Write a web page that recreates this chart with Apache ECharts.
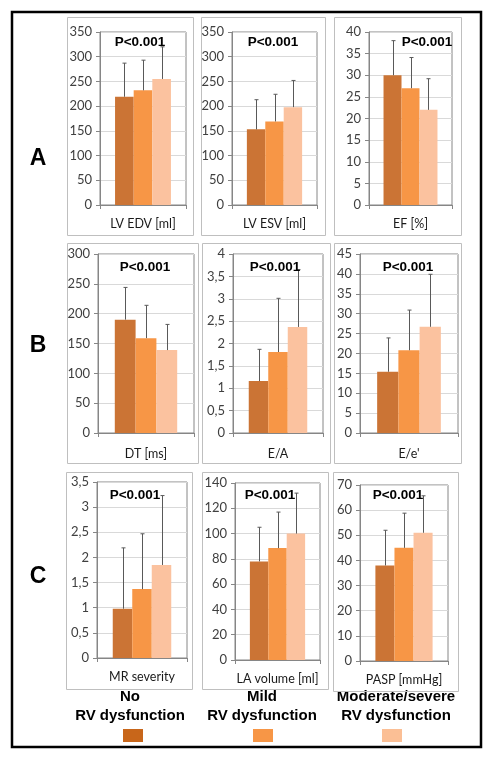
<!DOCTYPE html>
<html>
<head>
<meta charset="utf-8">
<script src="https://cdn.jsdelivr.net/npm/echarts@6/dist/echarts.min.js"></script>
<style>
html,body{margin:0;padding:0;background:#fff;}
#c{width:493px;height:760px;}
</style>
</head>
<body>
<div id="c"></div>
<script>
// ---- data ----
const categories = ['LV EDV [ml]', 'LV ESV [ml]', 'EF [%]', 'DT [ms]', 'E/A', "E/e'", 'MR severity', 'LA volume [ml]', 'PASP [mmHg]'];
const groups = ['No\nRV dysfunction', 'Mild\nRV dysfunction', 'Moderate/severe\nRV dysfunction'];
const noRV = [219, 153, 30, 190, 1.16, 15.4, 0.98, 78, 38];
const mildRV = [232, 169, 27, 159, 1.81, 20.8, 1.37, 88.5, 45];
const modRV = [255, 198, 22, 139, 2.37, 26.7, 1.85, 100, 51];
const noRVUpper = [287, 213, 38, 244, 1.87, 23.9, 2.19, 105, 52];
const mildRVUpper = [293, 224, 34.1, 214, 3.01, 30.9, 2.47, 117, 58.8];
const modRVUpper = [320, 252, 29.2, 182, 3.65, 39.9, 3.23, 132, 65.7];
const axisMax = [350, 350, 40, 300, 4, 45, 3.5, 140, 70];
const axisStep = [50, 50, 5, 50, 0.5, 5, 0.5, 20, 10];
const pLabels = ['P<0.001', 'P<0.001', 'P<0.001', 'P<0.001', 'P<0.001', 'P<0.001', 'P<0.001', 'P<0.001', 'P<0.001'];
const rowLetters = ['A', 'B', 'C'];

// ---- layout / style ----
const grids = [
  [100, 32, 86, 173], [232, 32, 85, 173], [369, 32, 83, 173],
  [98, 254, 96, 179], [233, 254, 90, 179], [360, 254, 98, 179],
  [97, 482, 90, 176], [235, 483, 85, 177], [360, 485, 88, 176]
];
const boxes = [
  [67, 17, 126, 218], [201, 17, 124, 218], [334, 17, 127, 218],
  [67, 243, 131, 220], [202, 243, 128, 220], [334, 243, 127, 220],
  [66, 472, 126, 217], [202, 472, 126, 217], [333, 472, 125, 219]
];
const pPos = [[140, 42], [273, 42], [427, 42], [145, 267], [275, 267], [408, 267], [135, 495], [270, 495], [398, 495]];
const letterPos = [[38, 159], [38, 346], [38, 577]];
const barColors = ['#CB7435', '#F79646', '#FBC29F'];
const legendColors = ['#C8661A', '#F79646', '#FBBF95'];
const legendTextX = [130, 262, 396];
const legendBoxX = [133, 263, 392];
const axisGray = '#868686';
const labelFont = 'Lato, "Open Sans", sans-serif';

const values = [noRV, mildRV, modRV];
const uppers = [noRVUpper, mildRVUpper, modRVUpper];

const option = {
  backgroundColor: '#fff',
  animation: false,
  grid: [], xAxis: [], yAxis: [], series: [], graphic: []
};

categories.forEach((cat, i) => {
  const g = grids[i];
  option.grid.push({left: g[0], top: g[1], width: g[2], height: g[3], show: true,
    borderColor: axisGray, borderWidth: 1, backgroundColor: 'transparent'});
  option.xAxis.push({type: 'category', gridIndex: i, data: [cat],
    axisLine: {lineStyle: {color: axisGray}},
    axisTick: {show: true, length: 4, lineStyle: {color: axisGray}},
    axisLabel: {color: '#1a1a1a', fontFamily: labelFont, fontSize: 12.5, margin: i >= 3 && i < 6 ? 14 : 12}});
  option.yAxis.push({type: 'value', gridIndex: i, min: 0, max: axisMax[i], interval: axisStep[i],
    axisLine: {show: true, lineStyle: {color: axisGray}},
    axisTick: {show: true, length: 4, lineStyle: {color: axisGray}},
    splitLine: {lineStyle: {color: '#D9D9D9'}},
    axisLabel: {color: '#404040', fontFamily: labelFont, fontSize: 13, margin: 8,
      formatter: v => String(v).replace('.', ',')}});
  for (let k = 0; k < 3; k++) {
    option.series.push({type: 'bar', xAxisIndex: i, yAxisIndex: i, data: [values[k][i]],
      barGap: '0%', barCategoryGap: '35%', itemStyle: {color: barColors[k]}, z: 2});
  }
  option.series.push({
    type: 'custom', xAxisIndex: i, yAxisIndex: i, z: 5,
    encode: {x: 0, y: 1},
    data: [0, 1, 2].map(k => [0, uppers[k][i], k, values[k][i]]),
    renderItem: function (params, api) {
      const k = api.value(2);
      const topPt = api.coord([0, api.value(1)]);
      const basePt = api.coord([0, api.value(3)]);
      const band = api.size([1, 0])[0];
      const bw = band * 0.65 / 3;
      const x = Math.round(topPt[0] + (k - 1) * bw) + 0.5;
      const st = {stroke: '#595959', lineWidth: 1};
      return {type: 'group', children: [
        {type: 'line', shape: {x1: x, y1: basePt[1], x2: x, y2: topPt[1]}, style: st},
        {type: 'line', shape: {x1: x - 2, y1: topPt[1], x2: x + 2, y2: topPt[1]}, style: st}
      ]};
    }
  });
  const b = boxes[i];
  option.graphic.push({type: 'rect', shape: {x: b[0] + 0.5, y: b[1] + 0.5, width: b[2], height: b[3]},
    style: {fill: 'none', stroke: '#BFBFBF', lineWidth: 1}, z: 1});
  option.graphic.push({type: 'text', x: pPos[i][0], y: pPos[i][1], z: 10,
    style: {text: pLabels[i], font: 'bold 13.5px "Liberation Sans", Arial, sans-serif', fill: '#000',
      align: 'center', verticalAlign: 'middle'}});
});

rowLetters.forEach((t, r) => {
  option.graphic.push({type: 'text', x: letterPos[r][0], y: letterPos[r][1],
    style: {text: t, font: 'bold 23px "Liberation Sans", Arial, sans-serif', fill: '#000',
      align: 'center', verticalAlign: 'middle'}});
});

groups.forEach((t, k) => {
  option.graphic.push({type: 'text', x: legendTextX[k], y: 706.5,
    style: {text: t, font: 'bold 15px "Liberation Sans", Arial, sans-serif', fill: '#000',
      align: 'center', verticalAlign: 'middle', lineHeight: 18.5}});
  option.graphic.push({type: 'rect', shape: {x: legendBoxX[k] - 10, y: 729, width: 20, height: 13},
    style: {fill: legendColors[k]}});
});

option.graphic.push({type: 'rect', shape: {x: 12, y: 12, width: 469, height: 735},
  style: {fill: 'none', stroke: '#000', lineWidth: 2.5}, z: 20});

const chart = echarts.init(document.getElementById('c'), null, {renderer: 'canvas'});
chart.setOption(option);
</script>
</body>
</html>
